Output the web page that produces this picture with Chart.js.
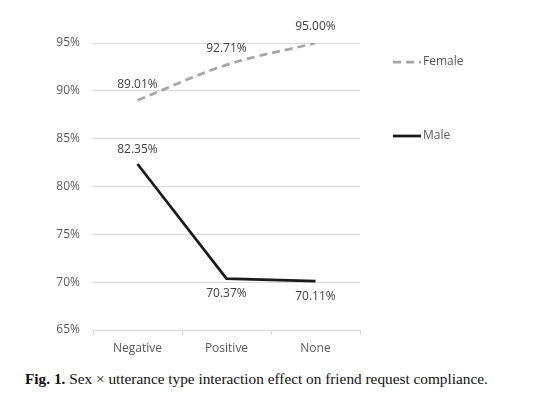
<!DOCTYPE html>
<html>
<head>
<meta charset="utf-8">
<script src="https://cdn.jsdelivr.net/npm/chart.js@4.4.0/dist/chart.umd.min.js"></script>
<style>
  html, body { margin: 0; padding: 0; background: #fff; width: 533px; height: 411px; overflow: hidden; }
  #wrap { position: absolute; left: 0; top: 0; width: 533px; height: 370px; }
  #caption { position: absolute; left: 25px; top: 370px; font-family: "Liberation Serif", "DejaVu Serif", serif; font-size: 15.3px; color: #111; white-space: nowrap; }
</style>
</head>
<body>
<div id="wrap"><canvas id="c" width="533" height="370"></canvas></div>
<div id="caption"><b>Fig. 1.</b> Sex &times; utterance type interaction effect on friend request compliance.</div>
<script>
const categories = ["Negative", "Positive", "None"];
const femaleValues = [89.01, 92.71, 95.00];
const maleValues = [82.35, 70.37, 70.11];
const yTicks = [65, 70, 75, 80, 85, 90, 95];

const labelFont = '12px "Open Sans", "Liberation Sans", sans-serif';

const dataLabels = {
  id: 'dataLabels',
  afterDatasetsDraw(chart) {
    const ctx = chart.ctx;
    ctx.save();
    ctx.font = labelFont;
    ctx.fillStyle = '#404040';
    ctx.textAlign = 'center';
    ctx.textBaseline = 'middle';
    chart.data.datasets.forEach((ds, di) => {
      const meta = chart.getDatasetMeta(di);
      meta.data.forEach((pt, i) => {
        const v = ds.data[i];
        let dy;
        if (ds.label === 'Female') dy = -16;
        else dy = (i === 0) ? -14 : 15;
        ctx.fillText(v.toFixed(2) + '%', pt.x, pt.y + dy);
      });
    });
    ctx.restore();
  }
};

const customLegend = {
  id: 'customLegend',
  afterDraw(chart) {
    const ctx = chart.ctx;
    ctx.save();
    ctx.font = labelFont;
    ctx.fillStyle = '#595959';
    ctx.textBaseline = 'middle';
    ctx.textAlign = 'left';
    const items = [
      { ds: chart.data.datasets[0], y: 62 },
      { ds: chart.data.datasets[1], y: 136 }
    ];
    items.forEach(it => {
      ctx.beginPath();
      ctx.strokeStyle = it.ds.borderColor;
      ctx.lineWidth = it.ds.borderWidth;
      ctx.setLineDash(it.ds.borderDash || []);
      ctx.moveTo(393, it.y);
      ctx.lineTo(421, it.y);
      ctx.stroke();
      ctx.setLineDash([]);
      ctx.fillText(it.ds.label, 423, it.y);
    });
    ctx.restore();
  }
};

new Chart(document.getElementById('c'), {
  type: 'line',
  data: {
    labels: categories,
    datasets: [
      {
        label: 'Female',
        data: femaleValues,
        borderColor: '#a6a6a6',
        borderWidth: 2.75,
        borderDash: [8, 5],
        tension: 0.35,
        pointRadius: 0,
        fill: false
      },
      {
        label: 'Male',
        data: maleValues,
        borderColor: '#1a1a1a',
        borderWidth: 2.75,
        tension: 0,
        pointRadius: 0,
        fill: false
      }
    ]
  },
  options: {
    responsive: false,
    animation: false,
    devicePixelRatio: 1,
    layout: { padding: { left: 0, right: 173, top: 43, bottom: 10 } },
    plugins: {
      legend: { display: false },
      tooltip: { enabled: false }
    },
    scales: {
      x: {
        offset: true,
        grid: { offset: true, drawOnChartArea: false, drawTicks: true, tickLength: 5, color: '#d9d9d9' },
        border: { display: true, color: '#d9d9d9' },
        ticks: { color: '#595959', font: { family: '"Open Sans", "Liberation Sans", sans-serif', size: 12 }, padding: 6 },
        afterFit(scale) { scale.height = 30; }
      },
      y: {
        min: 65,
        max: 95,
        afterBuildTicks(scale) { scale.ticks = yTicks.map(v => ({ value: v })); },
        grid: { color: '#d9d9d9', drawTicks: false },
        border: { display: false },
        ticks: {
          color: '#595959',
          font: { family: '"Open Sans", "Liberation Sans", sans-serif', size: 12 },
          padding: 13,
          callback: v => v + '%'
        },
        afterFit(scale) { scale.width = 93; }
      }
    }
  },
  plugins: [dataLabels, customLegend]
});
</script>
</body>
</html>
